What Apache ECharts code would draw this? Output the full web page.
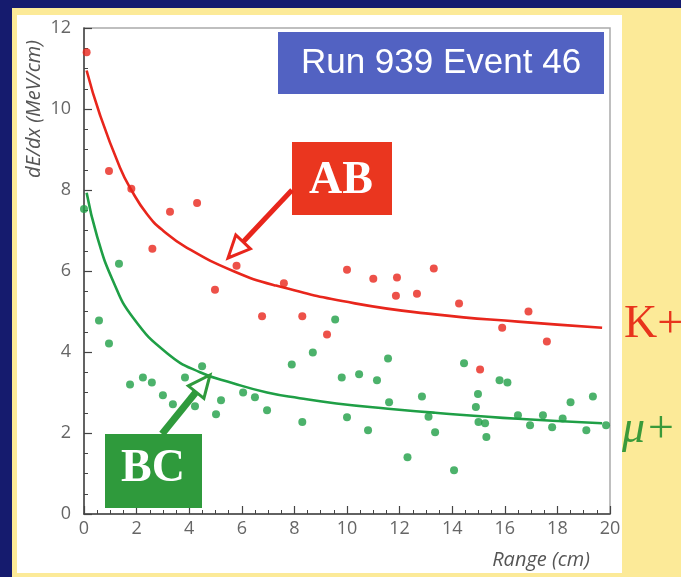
<!DOCTYPE html>
<html><head><meta charset="utf-8">
<script src="https://cdn.jsdelivr.net/npm/echarts@6/dist/echarts.min.js"></script>
<style>
html,body{margin:0;padding:0;background:#151b6e;}
#wrap{position:relative;width:681px;height:577px;overflow:hidden;background:#151b6e;}
#yellow{position:absolute;left:12px;top:8px;width:669px;height:569px;background:#fcea98;}
#white{position:absolute;left:17px;top:15px;width:605px;height:558px;background:#ffffff;}
#chart{position:absolute;left:0;top:0;width:681px;height:577px;}
</style></head>
<body><div id="wrap"><div id="yellow"></div><div id="white"></div><div id="chart"></div></div>
<script>
// Measured points (Range cm, dE/dx MeV/cm)
const kaonPoints = [
  [0.1,11.4],[0.95,8.47],[1.8,8.03],[2.6,6.55],[3.27,7.46],[4.3,7.68],[4.98,5.54],
  [5.8,6.13],[6.77,4.88],[7.6,5.7],[8.3,4.88],[9.24,4.43],[10.0,6.03],[11.0,5.81],
  [11.86,5.39],[11.9,5.84],[12.66,5.44],[13.3,6.06],[14.26,5.2],[15.06,3.57],
  [15.9,4.6],[16.9,5.0],[17.6,4.26]
];
const muonPoints = [
  [0.0,7.53],[0.57,4.78],[0.95,4.21],[1.33,6.18],[1.75,3.2],[2.24,3.37],[2.58,3.25],
  [3.0,2.93],[3.38,2.71],[3.84,3.37],[4.22,2.66],[4.49,3.65],[5.02,2.46],[5.21,2.81],
  [6.05,3.0],[6.5,2.88],[6.96,2.56],[7.9,3.69],[8.3,2.27],[8.7,3.99],[9.55,4.8],
  [9.8,3.37],[10.0,2.39],[10.46,3.45],[10.8,2.07],[11.14,3.3],[11.56,3.84],[11.6,2.76],
  [12.3,1.4],[12.85,2.9],[13.1,2.4],[13.35,2.02],[14.07,1.08],[14.45,3.72],[14.9,2.64],
  [14.98,2.96],[15.0,2.27],[15.25,2.24],[15.3,1.9],[15.8,3.3],[16.1,3.25],[16.5,2.44],
  [16.96,2.19],[17.45,2.44],[17.8,2.14],[18.2,2.36],[18.5,2.76],[19.1,2.07],[19.35,2.9],
  [19.85,2.19]
];
// Fitted curves
const kaonFit = [
  [0.1,10.95],[0.6,9.87],[1.37,8.55],[1.8,8.0],[2.4,7.4],[3.0,7.0],[3.9,6.58],
  [5.67,6.0],[7.3,5.64],[10.3,5.2],[13.35,4.93],[16.5,4.75],[19.7,4.6]
];
const muonFit = [
  [0.1,7.93],[0.5,6.85],[1.1,5.76],[1.86,4.85],[3.16,3.97],[4.41,3.5],[5.67,3.23],
  [6.96,3.0],[8.2,2.86],[9.6,2.73],[11.56,2.6],[13.35,2.5],[16.5,2.35],[19.7,2.24]
];
const xRange = [0, 20, 2];
const yRange = [0, 12, 2];
const titleText = 'Run 939 Event 46';
const xName = 'Range (cm)';
const yName = 'dE/dx (MeV/cm)';

const RED = '#e8261c', GREEN = '#1f9f46';
const axisCommon = {
  axisLine: {show: true, lineStyle: {color: '#444', width: 1.5}},
  axisTick: {show: true, inside: true, length: 8, lineStyle: {color: '#444', width: 1.2}},
  minorTick: {show: true, splitNumber: 4, length: 4, lineStyle: {color: '#444', width: 1}},
  splitLine: {show: false}
};
const chart = echarts.init(document.getElementById('chart'), null, {renderer: 'canvas'});
chart.setOption({
  backgroundColor: 'transparent',
  animation: false,
  grid: {left: 84, right: 71, top: 28, bottom: 63, show: true, borderColor: '#aaa', borderWidth: 1.5, backgroundColor: 'transparent'},
  xAxis: Object.assign({type: 'value', min: xRange[0], max: xRange[1], interval: xRange[2],
    axisLabel: {color: '#666', fontSize: 18, fontFamily: 'Open Sans', margin: 6}}, axisCommon),
  yAxis: Object.assign({type: 'value', min: yRange[0], max: yRange[1], interval: yRange[2],
    axisLabel: {color: '#666', fontSize: 18, fontFamily: 'Open Sans', margin: 13}}, axisCommon),
  series: [
    {type: 'line', data: kaonFit, smooth: 0.5, showSymbol: false, lineStyle: {color: RED, width: 2.6}, z: 3},
    {type: 'line', data: muonFit, smooth: 0.5, showSymbol: false, lineStyle: {color: GREEN, width: 2.6}, z: 3},
    {type: 'scatter', data: kaonPoints, symbolSize: 8, itemStyle: {color: RED}, z: 4},
    {type: 'scatter', data: muonPoints, symbolSize: 8, itemStyle: {color: GREEN}, z: 4}
  ],
  graphic: [
    {type: 'text', x: 34, y: 109, rotation: Math.PI / 2, z: 50,
      style: {text: yName, fill: '#555', font: 'italic 20px "Open Sans"', align: 'center', verticalAlign: 'middle'}},
    {type: 'text', x: 541, y: 560, z: 50,
      style: {text: xName, fill: '#555', font: 'italic 20px "Open Sans"', align: 'center', verticalAlign: 'middle'}},
    {type: 'rect', shape: {x: 278, y: 32, width: 326, height: 62}, style: {fill: '#5262c2'}, z: 50},
    {type: 'text', x: 441, y: 63, z: 51,
      style: {text: titleText, fill: '#fff', font: '35px "Liberation Sans"', align: 'center', verticalAlign: 'middle'}},
    {type: 'rect', shape: {x: 292, y: 142, width: 100, height: 73}, style: {fill: '#ea361f'}, z: 50},
    {type: 'text', x: 341, y: 181, z: 51,
      style: {text: 'AB', fill: '#fff', font: 'bold 46px "Liberation Serif"', align: 'center', verticalAlign: 'middle'}},
    {type: 'rect', shape: {x: 105, y: 434, width: 97, height: 74}, style: {fill: '#2f9a3c'}, z: 50},
    {type: 'text', x: 153, y: 469, z: 51,
      style: {text: 'BC', fill: '#fff', font: 'bold 46px "Liberation Serif"', align: 'center', verticalAlign: 'middle'}},
    {type: 'line', shape: {x1: 292, y1: 190, x2: 243, y2: 242}, style: {stroke: RED, lineWidth: 5}, z: 52},
    {type: 'polygon', shape: {points: [[228, 258], [250.4, 248.8], [235.8, 235.0]]}, style: {fill: '#fff', stroke: RED, lineWidth: 3, lineJoin: 'miter'}, z: 53},
    {type: 'line', shape: {x1: 162, y1: 434, x2: 196, y2: 392}, style: {stroke: '#2f9a3c', lineWidth: 7}, z: 52},
    {type: 'polygon', shape: {points: [[210, 375], [203.9, 398.4], [188.3, 385.8]]}, style: {fill: '#fff', stroke: '#2f9a3c', lineWidth: 3, lineJoin: 'miter'}, z: 53},
    {type: 'text', x: 624, y: 325, z: 50,
      style: {text: 'K+', fill: '#e8341c', font: '46px "Liberation Serif"', align: 'left', verticalAlign: 'middle'}},
    {type: 'text', x: 622, y: 430, z: 50,
      style: {text: 'μ+', fill: '#3a9a3a', font: 'italic 46px "Liberation Serif"', align: 'left', verticalAlign: 'middle'}}
  ]
});
</script>
</body></html>
